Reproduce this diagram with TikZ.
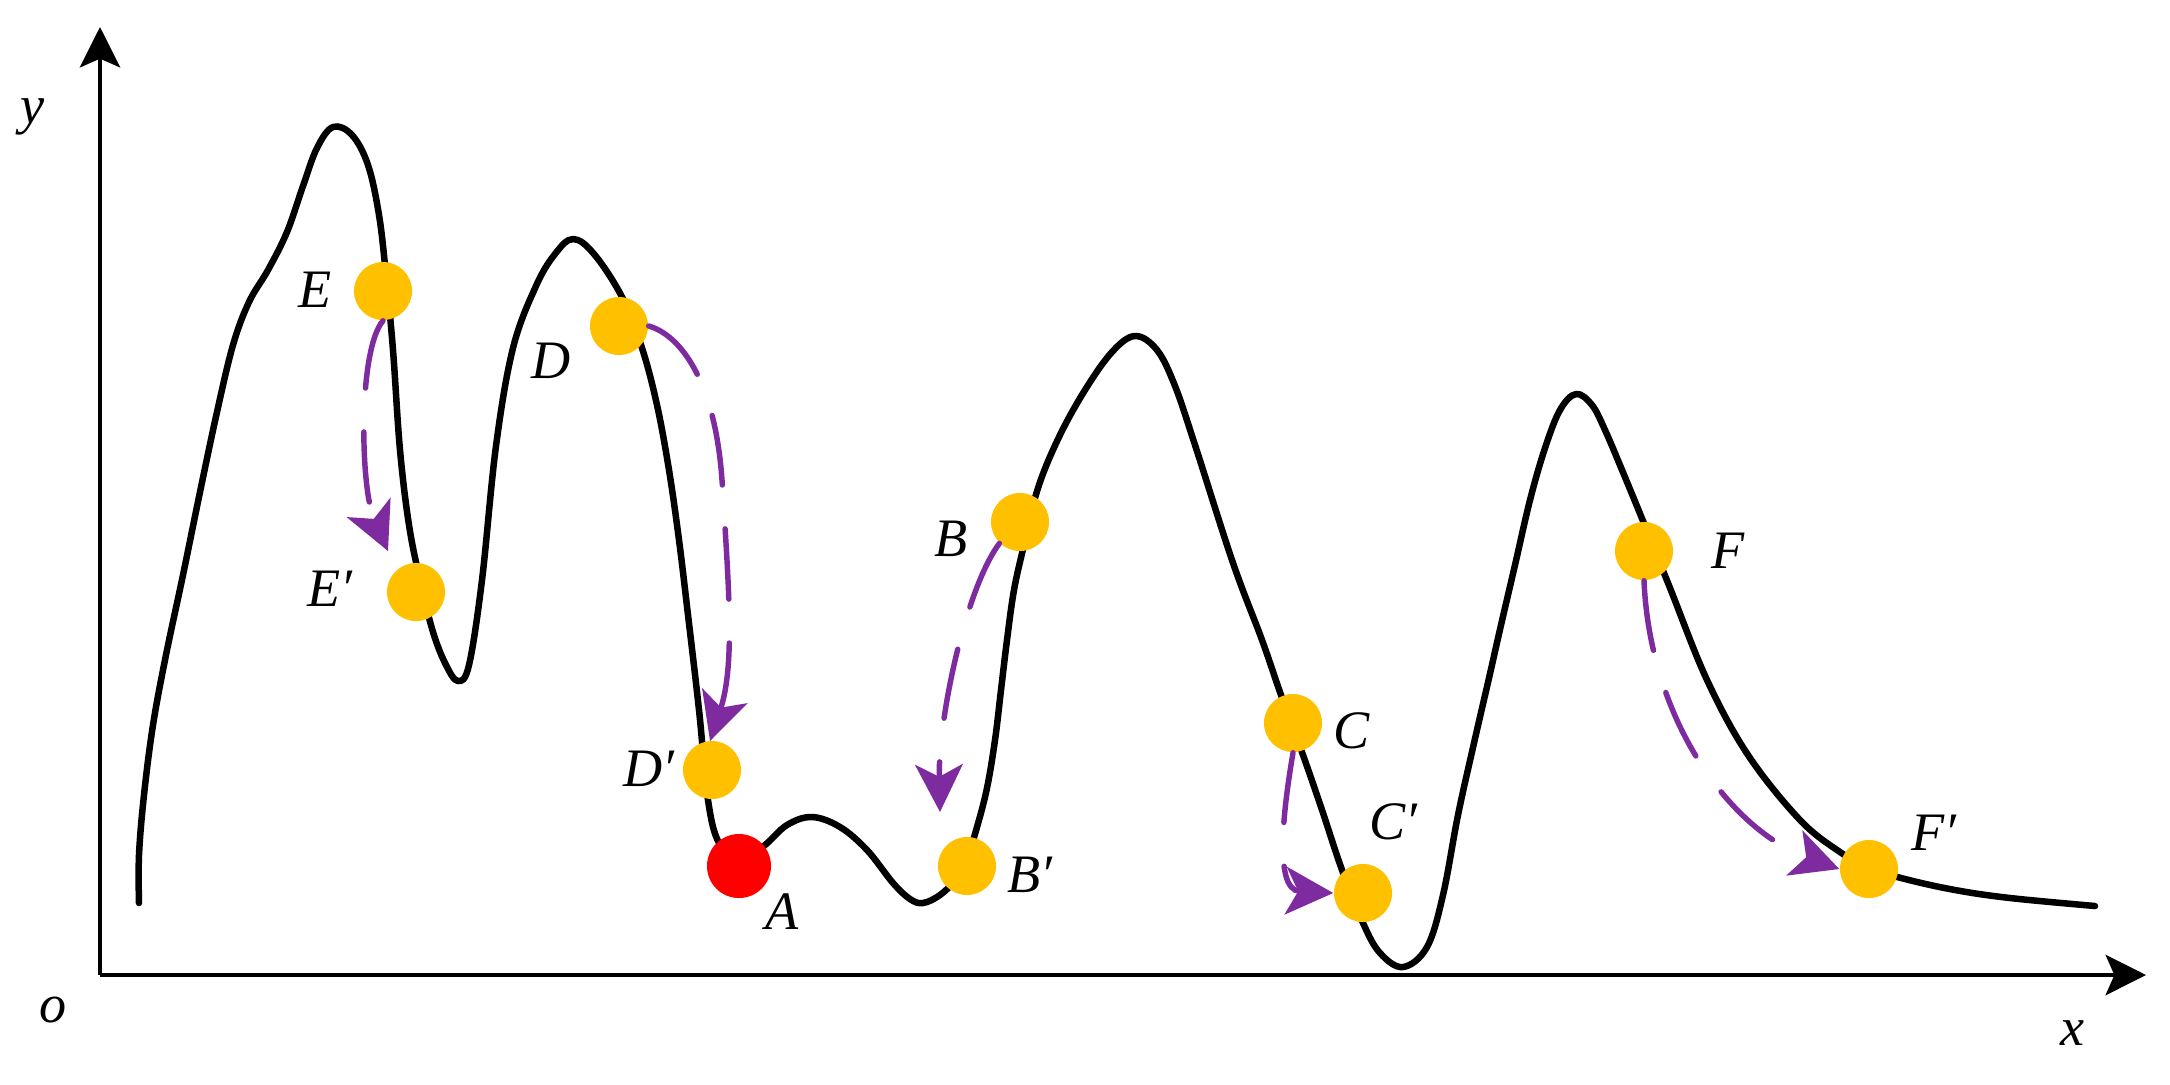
\documentclass[tikz,border=0pt]{standalone}
\usepackage{fontspec}
\setmainfont{Liberation Serif}
\usetikzlibrary{arrows.meta}
\definecolor{gold}{HTML}{FFC000}
\definecolor{pur}{HTML}{7E2BA0}
\begin{document}
\begin{tikzpicture}[x=0.01cm,y=-0.01cm,
  curveline/.style={line width=1.85pt, line join=round, line cap=round},
  axisline/.style={line width=1pt, -{Stealth[length=11.5pt,width=11.5pt,inset=2.5pt]}},
  ball/.style={circle, fill=gold, draw=none, inner sep=0pt, minimum size=0.58cm},
  redball/.style={circle, fill=red, draw=none, inner sep=0pt, minimum size=0.64cm},
  lbl/.style={font=\fontsize{15.4}{18}\selectfont\itshape, inner sep=0pt},
  move/.style={pur, line width=1.55pt, line cap=round, dash pattern=on 20pt off 12.5pt,
    -{Stealth[length=13.5pt,width=13.5pt,inset=3.5pt]}}
]
\useasboundingbox (0,0) rectangle (2170,1084);

% axes
\coordinate (O) at (100,975);
\coordinate (Ytip) at (100,27);
\coordinate (Xtip) at (2146,975);
\draw[axisline] (O) -- (Ytip);
\draw[axisline] (O) -- (Xtip);
\node[lbl] (ylbl) at (33,117) {y};
\node[lbl] (olbl) at (53,1010) {o};
\node[lbl] (xlbl) at (2072,1033) {x};

% landscape curve
\draw[curveline] plot[smooth, tension=0.6] coordinates {
 (139,903) (139,855) (144,795) (153,725) (166,655) (183,575) (200,492) (217,412)
 (233,345) (249,302) (268,270) (287,232) (303,186) (317,148) (333,127) (352,135)
 (368,165) (379,215) (386,275) (393,350) (400,450) (409,525) (420,580) (433,632)
 (446,665) (458,681) (469,665) (482,580) (496,446) (513,348) (536,286) (555,254)
 (573,239) (594,254) (622,297) (642,348) (657,405) (669,470) (679,540) (688,615)
 (699,710) (708,800) (719,843) (740,862) (765,845) (787,825) (812,817) (840,827)
 (867,850) (893,883) (910,899) (923,903) (940,895) (955,880) (967,858) (977,827)
 (987,788) (995,740) (1001,690) (1007,640) (1014,590) (1024,545) (1038,488)
 (1059,437) (1085,390) (1112,352) (1135,336) (1157,350) (1175,386) (1195,445)
 (1233,563) (1262,640) (1281,695) (1303,755) (1322,810) (1342,870) (1363,923)
 (1380,953) (1403,967) (1427,947) (1443,895) (1458,815) (1474,743) (1489,678)
 (1501,625) (1515,565) (1530,500) (1545,448) (1560,410) (1576,394) (1592,405)
 (1605,430) (1622,470) (1643,521) (1670,588) (1707,680) (1748,755) (1800,820)
 (1840,852) (1869,868) (1905,879) (1955,890) (2010,898) (2095,906)};

% points
\node[ball] (E)  at (383,291) {};
\node[ball] (E2) at (416,592) {};
\node[ball] (D)  at (619,326) {};
\node[ball] (D2) at (712,770) {};
\node[redball] (A) at (739,866) {};
\node[ball] (B)  at (1020,522) {};
\node[ball] (B2) at (967,866) {};
\node[ball] (C)  at (1293,723) {};
\node[ball] (C2) at (1363,893) {};
\node[ball] (F)  at (1644,551) {};
\node[ball] (F2) at (1869,869) {};

% labels
\node[lbl] (Elbl)  at (315,290) {E};
\node[lbl] (E2lbl) at (330,589) {E′};
\node[lbl] (Dlbl)  at (551,361) {D};
\node[lbl] (D2lbl) at (649,769) {D′};
\node[lbl] (Albl)  at (782,912) {A};
\node[lbl] (Blbl)  at (951,539) {B};
\node[lbl] (B2lbl) at (1030,875) {B′};
\node[lbl] (Clbl)  at (1352,731) {C};
\node[lbl] (C2lbl) at (1393,822) {C′};
\node[lbl] (Flbl)  at (1728,551) {F};
\node[lbl] (F2lbl) at (1934,833) {F′};

% arrow end points
\coordinate (Etip) at (388,551);
\coordinate (Dtip) at (710,741);
\coordinate (Btip) at (940,812);
\coordinate (Ctip) at (C2.west);
\coordinate (Ftip) at (F2.west);

% moves
\draw[move] (E.south) .. controls (358,350) and (360,488) .. (Etip);
\draw[move] (D.east) .. controls (680,335) and (715,380) .. (722,480)
                     .. controls (729,590) and (735,665) .. (Dtip);
\draw[move] (B.226) .. controls (965,590) and (938,720) .. (Btip);
\draw[move] (C.south) .. controls (1285,800) and (1272,890) .. (Ctip);
\draw[move] (F.south) .. controls (1650,720) and (1730,830) .. (Ftip);
\end{tikzpicture}
\end{document}
